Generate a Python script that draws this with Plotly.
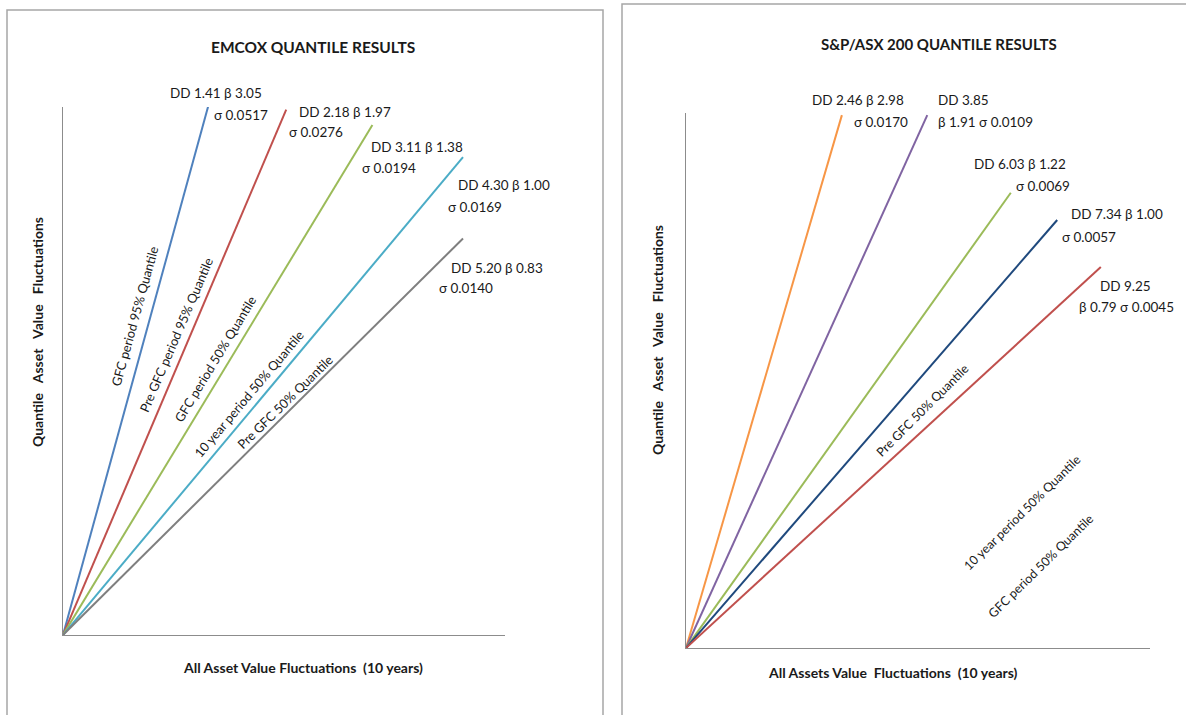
import plotly.graph_objects as go

W, H = 1186, 715

# ---- Data ----
left_series = ["GFC period 95% Quantile", "Pre GFC period 95% Quantile", "GFC period 50% Quantile",
               "10 year period 50% Quantile", "Pre GFC 50% Quantile"]
left_x_end = [0.33, 0.505, 0.70, 0.905, 0.905]
left_y_end = [1.006, 0.995, 0.966, 0.905, 0.751]
left_top = ["DD 1.41 β 3.05", "DD 2.18 β 1.97", "DD 3.11 β 1.38", "DD 4.30 β 1.00", "DD 5.20 β 0.83"]
left_bot = ["σ 0.0517", "σ 0.0276", "σ 0.0194", "σ 0.0169", "σ 0.0140"]

right_series = ["S1", "S2", "S3", "Pre GFC 50% Quantile", "S5"]
right_x_end = [0.336, 0.52, 0.70, 0.80, 0.894]
right_y_end = [0.996, 0.996, 0.851, 0.80, 0.712]
right_top = ["DD 2.46 β 2.98", "DD 3.85", "DD 6.03 β 1.22", "DD 7.34 β 1.00", "DD 9.25"]
right_bot = ["σ 0.0170", "β 1.91 σ 0.0109", "σ 0.0069", "σ 0.0057", "β 0.79 σ 0.0045"]
right_free_labels = ["Pre GFC 50% Quantile", "10 year period 50% Quantile", "GFC period 50% Quantile"]

left_colors = ["#4F81BD", "#C0504D", "#9BBB59", "#4BACC6", "#7F7F7F"]
right_colors = ["#F79646", "#8064A2", "#9BBB59", "#1F497D", "#C0504D"]

FONT = "Lato, 'Open Sans', sans-serif"
NB = "\u00a0"

def px(x):
    return x / W

def py(y):
    return 1 - y / H

fig = go.Figure()

for name, xe, ye, c in zip(left_series, left_x_end, left_y_end, left_colors):
    fig.add_trace(go.Scatter(x=[0, xe], y=[0, ye], mode="lines", line=dict(color=c, width=2),
                             name=name, xaxis="x", yaxis="y", showlegend=False, hoverinfo="skip"))
for name, xe, ye, c in zip(right_series, right_x_end, right_y_end, right_colors):
    fig.add_trace(go.Scatter(x=[0, xe], y=[0, ye], mode="lines", line=dict(color=c, width=2),
                             name=name, xaxis="x2", yaxis="y2", showlegend=False, hoverinfo="skip"))

axis_common = dict(showgrid=False, zeroline=False, showticklabels=False, ticks="",
                   showline=True, linecolor="#8C8C8C", linewidth=1.3, fixedrange=True)

fig.update_layout(
    width=W, height=H, margin=dict(l=0, r=0, t=0, b=0),
    paper_bgcolor="white", plot_bgcolor="white",
    font=dict(family=FONT, size=13, color="#1a1a1a"),
    xaxis=dict(domain=[px(63), px(505)], range=[0, 1], anchor="y", **axis_common),
    yaxis=dict(domain=[py(635), py(107)], range=[0, 1.0], anchor="x", **axis_common),
    xaxis2=dict(domain=[px(686), px(1150)], range=[0, 1], anchor="y2", **axis_common),
    yaxis2=dict(domain=[py(648), py(113)], range=[0, 1.0], anchor="x2", **axis_common),
)

# panel borders
fig.add_shape(type="rect", xref="paper", yref="paper", x0=px(7), x1=px(603), y0=py(720), y1=py(10),
              line=dict(color="#A6A6A6", width=1.5), fillcolor="rgba(0,0,0,0)", layer="below")
fig.add_shape(type="rect", xref="paper", yref="paper", x0=px(622), x1=px(1195), y0=py(720), y1=py(4),
              line=dict(color="#A6A6A6", width=1.5), fillcolor="rgba(0,0,0,0)", layer="below")

ann = []

def text(x, y, s, size=13.5, bold=False, angle=0, anchor="center"):
    if bold:
        s = "<b>" + s + "</b>"
    ann.append(dict(x=px(x), y=py(y), xref="paper", yref="paper", text=s, showarrow=False,
                    textangle=angle, xanchor=anchor, yanchor="middle",
                    font=dict(family=FONT, size=size, color="#1a1a1a")))

ytitle = (NB * 3).join(["Quantile", "Asset", "Value", "Fluctuations"])

# titles
text(313, 47, "EMCOX QUANTILE RESULTS", size=15.5, bold=True)
text(939, 44, "S&P/ASX 200 QUANTILE RESULTS", size=15, bold=True)
text(37, 332, ytitle, size=14, bold=True, angle=-90)
text(657, 340, ytitle, size=14, bold=True, angle=-90)
text(303, 667, "All Asset Value Fluctuations" + NB * 2 + "(10 years)", size=14, bold=True)
text(893, 672, "All Assets Value" + NB * 2 + "Fluctuations" + NB * 2 + "(10 years)", size=14, bold=True)

# left end labels
left_top_pos = [(168, 93), (297, 112), (369, 147), (456, 185), (449, 268)]
left_bot_pos = [(212, 115), (287, 132), (360, 168), (446, 207), (437, 288)]
for s, (x, y) in zip(left_top, left_top_pos):
    text(x, y, s, anchor="left")
for s, (x, y) in zip(left_bot, left_bot_pos):
    text(x, y, s, anchor="left")

# left rotated labels
left_rot = [(135, 316.5, -74.6), (176, 335, -66.8), (215, 359, -58.8), (248.5, 393.5, -49.8), (284.5, 401.5, -44.4)]
for s, (x, y, a) in zip(left_series, left_rot):
    text(x, y, s, size=12.8, angle=a)

# right end labels
right_top_pos = [(810, 100), (936, 100), (972, 164), (1069, 214), (1098, 286)]
right_bot_pos = [(852, 122), (936, 122), (1014, 186), (1060, 237), (1077, 307)]
for s, (x, y) in zip(right_top, right_top_pos):
    text(x, y, s, anchor="left")
for s, (x, y) in zip(right_bot, right_bot_pos):
    text(x, y, s, anchor="left")

right_rot = [(922, 410, -45), (1022, 512, -44.5), (1040, 566, -44.5)]
for s, (x, y, a) in zip(right_free_labels, right_rot):
    text(x, y, s, size=12.5, angle=a)

fig.update_layout(annotations=ann)
fig.write_html("out.html", config={"displayModeBar": False},
               post_script="document.body.style.margin='0';document.body.style.overflow='hidden';")
